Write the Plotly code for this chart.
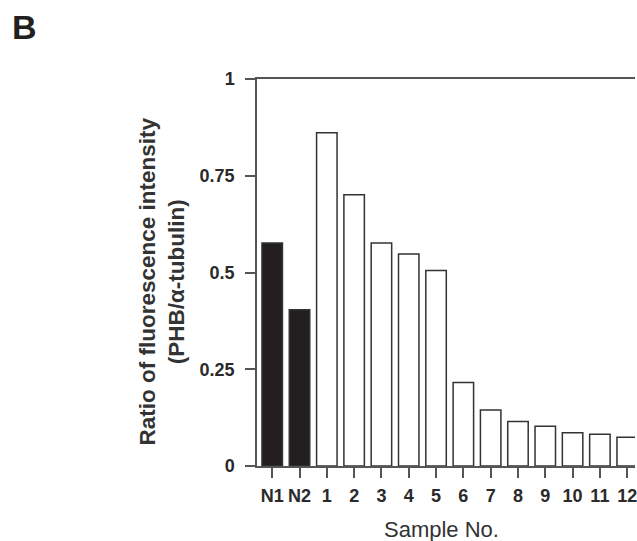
import plotly.graph_objects as go

categories = ["N1", "N2", "1", "2", "3", "4", "5", "6", "7", "8", "9", "10", "11", "12"]
groups = ["normal", "normal"] + ["tumor"] * 12
ratio = [0.576, 0.404, 0.861, 0.701, 0.576, 0.548, 0.505, 0.216, 0.145, 0.115, 0.103, 0.086, 0.082, 0.074]
y_ticks = [0, 0.25, 0.5, 0.75, 1]
y_tick_labels = ["0", "0.25", "0.5", "0.75", "1"]

group_colors = {"normal": "#231f20", "tumor": "#ffffff"}
colors = [group_colors[g] for g in groups]

W, H = 637, 541
L, R, T, B = 257, 0, 79, 75
pw, ph = W - L - R, H - T - B

fig = go.Figure()
fig.add_trace(go.Bar(
    x=categories, y=ratio,
    marker=dict(color=colors, line=dict(color="#333333", width=1.5)),
    width=0.75,
))

tick_font = dict(family="Liberation Sans, Arial", size=18, color="#2a2a2a", weight="bold")

fig.update_layout(
    width=W, height=H,
    margin=dict(l=L, r=R, t=T, b=B),
    paper_bgcolor="white", plot_bgcolor="white",
    showlegend=False,
    bargap=0.25,
    xaxis=dict(
        type="category", range=[-0.557, 13.286],
        showline=True, linecolor="#555555", linewidth=1.5, mirror=True,
        ticks="outside", ticklen=10, tickwidth=1.5, tickcolor="#555555",
        tickfont=tick_font, tickangle=0, ticklabelstandoff=3, showgrid=False, zeroline=False,
    ),
    yaxis=dict(
        range=[0, 1], tickvals=y_ticks, ticktext=y_tick_labels,
        showline=True, linecolor="#555555", linewidth=1.5,
        ticks="outside", ticklen=10, tickwidth=1.5, tickcolor="#555555",
        tickfont=tick_font, ticklabelstandoff=7, showgrid=False, zeroline=False,
    ),
    annotations=[
        dict(text="Sample No.", xref="paper", yref="paper",
             x=(442 - L) / pw, y=-(529 - (T + ph)) / ph, showarrow=False,
             xanchor="center", yanchor="middle",
             font=dict(family="Liberation Sans, Arial", size=22, color="#333333")),
        dict(text="Ratio of fluorescence intensity<br>(PHB/α-tubulin)", xref="paper", yref="paper",
             x=(161 - L) / pw, y=(T + ph - 282) / ph, showarrow=False, textangle=-90,
             xanchor="center", yanchor="middle",
             font=dict(family="Liberation Sans, Arial", size=22.5, color="#333333", weight="bold")),
        dict(text="B", xref="paper", yref="paper",
             x=(9 - L) / pw, y=(T + ph - 27) / ph, showarrow=False,
             xanchor="left", yanchor="middle",
             font=dict(family="Liberation Sans, Arial", size=34, color="#231f20", weight="bold")),
    ],
)

fig.write_html("out.html", config={"displayModeBar": False},
               post_script="document.body.style.margin='0px';")
